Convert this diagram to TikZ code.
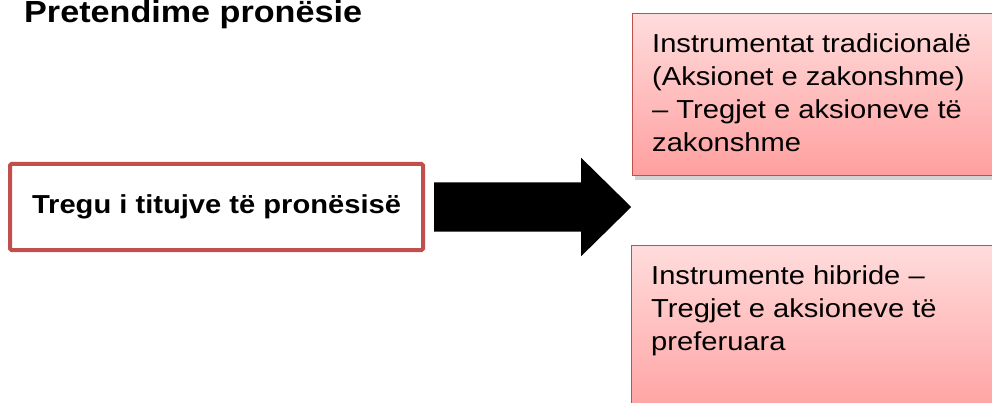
\documentclass[tikz,border=0pt]{standalone}
\usepackage{fontspec}
\setmainfont[FakeStretch=1.12]{Liberation Sans}
\usetikzlibrary{positioning}
\usetikzlibrary{shapes.arrows}
\usetikzlibrary{shadows}

\definecolor{boxred}{HTML}{C0504D}
\definecolor{pinktop}{HTML}{FFDCDC}
\definecolor{pinkbot}{HTML}{FF9F9F}

\begin{document}
\begin{tikzpicture}[x=1pt, y=-1pt,
        market/.style={draw=boxred, line width=4pt, fill=white, rounded corners=1.5pt,
            minimum width=413pt, minimum height=86pt, font=\fontsize{26}{30}\selectfont\bfseries},
        segment/.style={draw=boxred, line width=1.2pt, top color=pinktop, bottom color=pinkbot,
            anchor=north west, minimum width=400pt,
            drop shadow={opacity=0.35, shadow xshift=2pt, shadow yshift=-4pt}},
        segtext/.style={anchor=north west, inner sep=0pt, align=left,
            font=\fontsize{26}{33}\selectfont},
        bigarrow/.style={single arrow, fill=black, inner xsep=0pt, inner ysep=24.5pt,
            minimum height=197pt, minimum width=98pt, single arrow head extend=24.5pt,
            single arrow tip angle=89, single arrow head indent=0pt}]
        \useasboundingbox (0,0) rectangle (992,403);
        \clip (0,0) rectangle (992,403);

        \node[anchor=base west, inner sep=0pt, font=\fontsize{30.5}{36}\selectfont\bfseries]
            (title) at (24,22.7) {Pretendime pronësie};

        \node[market] (market) at (216.5,207) {Tregu i titujve të pronësisë};
        \node[bigarrow, right=9pt of market] (arrow) {};

        \node[segment, minimum height=162pt] (common) at (632,13) {};
        \node[segtext] (commontext) at ([xshift=20pt, yshift=-20pt]common.north west)
            {Instrumentat tradicionalë\\(Aksionet e zakonshme)\\– Tregjet e aksioneve të\\zakonshme};

        \node[segment, minimum height=175pt] (hybrid) at (631,245) {};
        \node[segtext] (hybridtext) at ([xshift=20pt, yshift=-20pt]hybrid.north west)
            {Instrumente hibride –\\Tregjet e aksioneve të\\preferuara};
      \end{tikzpicture}
\end{document}
